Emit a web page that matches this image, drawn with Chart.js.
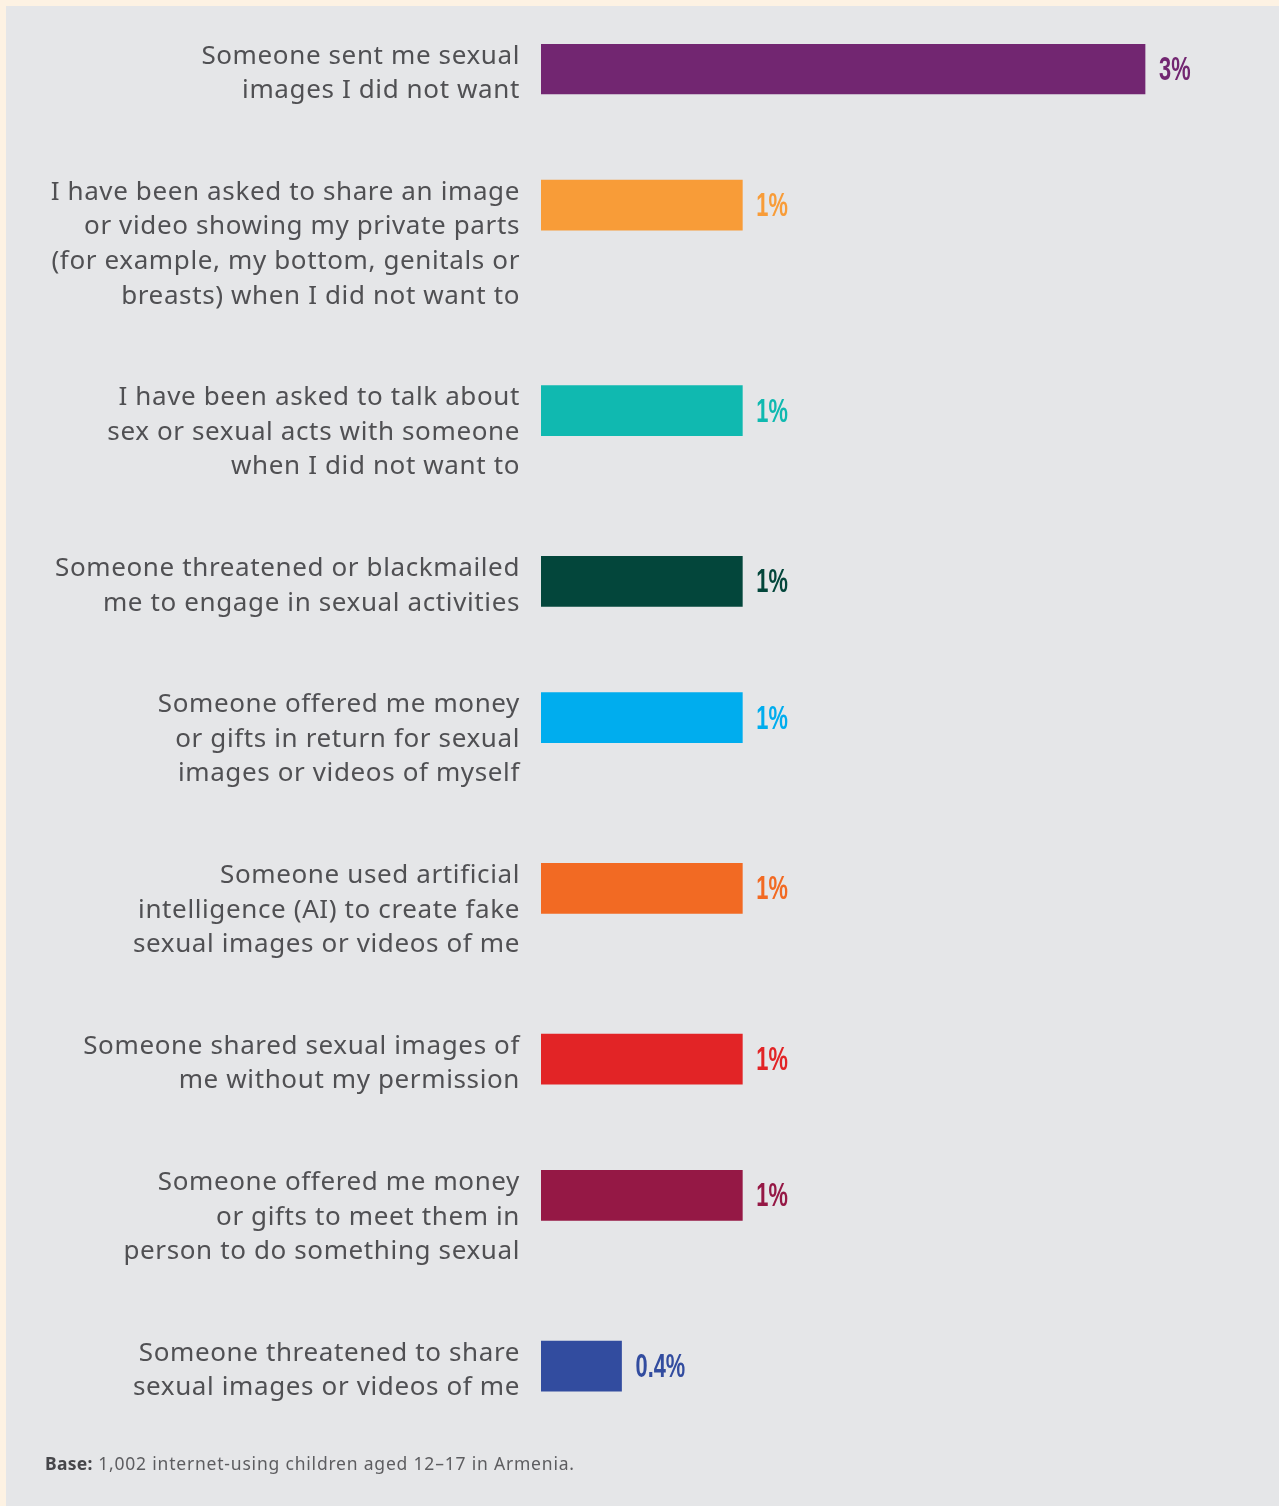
<!DOCTYPE html>
<html>
<head>
<meta charset="utf-8">
<script src="https://cdn.jsdelivr.net/npm/chart.js@4"></script>
<style>
  html, body { margin: 0; padding: 0; background: #fdf2e3; }
  #wrap { position: absolute; left: 6px; top: 6px; width: 1273px; height: 1500px; background: #e5e6e8; }
  #chart { display: block; }
  #base { position: absolute; left: 39px; top: 1445px; font-family: "Noto Sans", sans-serif; font-size: 17.5px; letter-spacing: 0.8px; color: #5d5d60; white-space: nowrap; }
  #base b { color: #46464a; letter-spacing: 0.3px; }
</style>
</head>
<body>
<div id="wrap">
  <canvas id="chart" width="1273" height="1500"></canvas>
  <div id="base"><b>Base:</b> 1,002 internet-using children aged 12–17 in Armenia.</div>
</div>
<script>
// one entry per bar, each label already split into its printed lines
const labels = [
  ["Someone sent me sexual", "images I did not want"],
  ["I have been asked to share an image", "or video showing my private parts", "(for example, my bottom, genitals or", "breasts) when I did not want to"],
  ["I have been asked to talk about", "sex or sexual acts with someone", "when I did not want to"],
  ["Someone threatened or blackmailed", "me to engage in sexual activities"],
  ["Someone offered me money", "or gifts in return for sexual", "images or videos of myself"],
  ["Someone used artificial", "intelligence (AI) to create fake", "sexual images or videos of me"],
  ["Someone shared sexual images of", "me without my permission"],
  ["Someone offered me money", "or gifts to meet them in", "person to do something sexual"],
  ["Someone threatened to share", "sexual images or videos of me"]
];
const values = [3, 1, 1, 1, 1, 1, 1, 1, 0.4];
const valueLabels = ["3%", "1%", "1%", "1%", "1%", "1%", "1%", "1%", "0.4%"];
const colors = ["#722671", "#f89c38", "#10b9b0", "#03463b", "#00adee", "#f26a23", "#e22426", "#951845", "#324c9f"];

// rows are as tall as their label, so bar positions follow the line counts
const LINE_H = 34.6;          // px per label line
const ROW_GAP = 67 / LINE_H;  // space under each row, in lines
const BAR_H = 50;
const Y_MAX = 40;             // y axis runs in label lines
const TOP = 38;
let cursor = 0;
const rowPos = labels.map(l => {
  const p = cursor + (BAR_H / 2) / LINE_H;
  cursor += l.length + ROW_GAP;
  return p;
});

const labelFont = '400 26px "Noto Sans", sans-serif';
const valueFont = '700 33px "Liberation Sans", sans-serif';

// category text on the left and value text after each bar
const barText = {
  id: "barText",
  afterDatasetsDraw(chart) {
    const ctx = chart.ctx;
    const meta = chart.getDatasetMeta(0);
    meta.data.forEach((bar, i) => {
      const top = bar.y - BAR_H / 2;
      ctx.save();
      ctx.font = labelFont;
      ctx.letterSpacing = "0.62px";
      ctx.fillStyle = "#505053";
      ctx.textAlign = "right";
      ctx.textBaseline = "alphabetic";
      labels[i].forEach((line, k) => {
        ctx.fillText(line, chart.chartArea.left - 21, top + 19.5 + k * LINE_H);
      });
      ctx.restore();

      // condensed look for the percentages
      ctx.save();
      ctx.font = valueFont;
      ctx.fillStyle = colors[i];
      ctx.textBaseline = "alphabetic";
      ctx.translate(bar.x + 14, bar.y + 11);
      ctx.scale(0.66, 1);
      ctx.fillText(valueLabels[i], 0, 0);
      ctx.restore();
    });
  }
};

const canvas = document.getElementById("chart");
new Chart(canvas, {
  type: "bar",
  data: {
    datasets: [{
      data: values.map((v, i) => ({ x: v, y: rowPos[i] })),
      backgroundColor: colors,
      barThickness: BAR_H,
      borderWidth: 0
    }]
  },
  options: {
    indexAxis: "y",
    responsive: false,
    animation: false,
    layout: {
      padding: { left: 535, right: 33.3, top: TOP, bottom: canvas.height - TOP - Y_MAX * LINE_H }
    },
    scales: {
      x: { type: "linear", min: 0, max: 3.5, display: false },
      y: { type: "linear", min: 0, max: Y_MAX, reverse: true, offset: false, display: false }
    },
    plugins: {
      legend: { display: false },
      tooltip: { enabled: false }
    }
  },
  plugins: [barText]
});
</script>
</body>
</html>
